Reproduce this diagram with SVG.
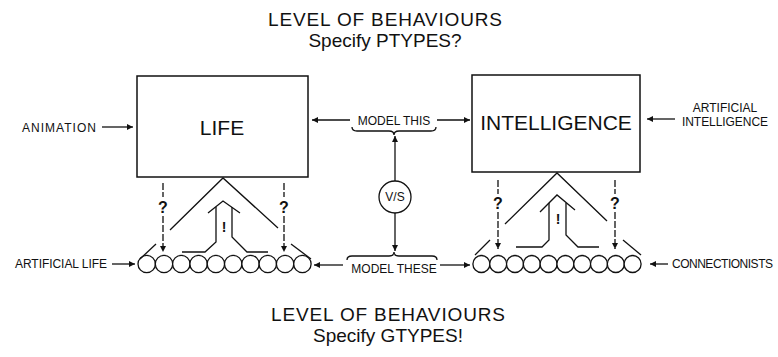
<svg xmlns="http://www.w3.org/2000/svg" width="778" height="357" viewBox="0 0 778 357">
<defs>
<style>
text{font-family:"Liberation Sans",Arial,sans-serif;fill:#111}
.title{font-size:19px;text-anchor:middle}
.lbl{font-size:12px}
.big{font-size:21px;text-anchor:middle}
.ln{fill:none;stroke:#111;stroke-width:1.3}
.box{fill:#fff;stroke:#111;stroke-width:1.5}
.dash{fill:none;stroke:#111;stroke-width:1.3;stroke-dasharray:7 2}
.q{font-size:16px;text-anchor:middle;font-weight:bold}
.ex{font-size:14px;text-anchor:middle;font-weight:bold}
.cir{fill:#fff;stroke:#111;stroke-width:1.3}
</style>
<marker id="ah" viewBox="0 0 10 10" refX="10" refY="5" markerWidth="7" markerHeight="6" orient="auto-start-reverse" markerUnits="userSpaceOnUse"><path d="M0,0 L10,5 L0,10 z" fill="#111"/></marker>
</defs>
<rect width="778" height="357" fill="#fff"/>

<g id="title-top">
<text class="title" x="385" y="26" textLength="234">LEVEL OF BEHAVIOURS</text>
<text class="title" x="385" y="47">Specify PTYPES?</text>
</g>
<g id="title-bottom">
<text class="title" x="388" y="321" textLength="234">LEVEL OF BEHAVIOURS</text>
<text class="title" x="388" y="342">Specify GTYPES!</text>
</g>

<g id="life">
<rect class="box" x="137" y="76" width="171" height="101"/>
<text class="big" x="222" y="135">LIFE</text>
</g>
<g id="intelligence">
<rect class="box" x="472" y="75" width="168" height="97"/>
<text class="big" x="556" y="130">INTELLIGENCE</text>
</g>

<g id="animation"><text class="lbl" x="22" y="132" textLength="74">ANIMATION</text></g>
<g id="ai-label">
<text class="lbl" x="725" y="112" text-anchor="middle">ARTIFICIAL</text>
<text class="lbl" x="682" y="126" textLength="86">INTELLIGENCE</text>
</g>
<g id="alife-label"><text class="lbl" x="15" y="268" textLength="92">ARTIFICIAL LIFE</text></g>
<g id="conn-label"><text class="lbl" x="672" y="268" textLength="101">CONNECTIONISTS</text></g>

<g id="model-this">
<text class="lbl" x="394" y="125" text-anchor="middle">MODEL THIS</text>
<path class="ln" d="M352,127 Q352,131 357,131 L389,131 Q394,131 394,135 Q394,131 399,131 L431,131 Q436,131 436,127"/>
</g>
<g id="model-these">
<text class="lbl" x="394" y="273" text-anchor="middle">MODEL THESE</text>
<path class="ln" d="M347,260 Q347,256 352,256 L389,256 Q394,256 394,252 Q394,256 399,256 L432,256 Q437,256 437,260"/>
</g>
<g id="vs">
<circle class="cir" cx="395" cy="197" r="16"/>
<text class="lbl" x="395" y="201" text-anchor="middle">V/S</text>
</g>

<g id="life-genes">
<circle class="cir" cx="146.7" cy="264" r="8.7"/><circle class="cir" cx="164" cy="264" r="8.7"/><circle class="cir" cx="181.3" cy="264" r="8.7"/><circle class="cir" cx="198.6" cy="264" r="8.7"/><circle class="cir" cx="215.9" cy="264" r="8.7"/><circle class="cir" cx="233.2" cy="264" r="8.7"/><circle class="cir" cx="250.5" cy="264" r="8.7"/><circle class="cir" cx="267.8" cy="264" r="8.7"/><circle class="cir" cx="285.1" cy="264" r="8.7"/><circle class="cir" cx="302.4" cy="264" r="8.7"/>
</g>
<g id="conn-genes">
<circle class="cir" cx="481.4" cy="264" r="8.5"/><circle class="cir" cx="498.2" cy="264" r="8.5"/><circle class="cir" cx="515" cy="264" r="8.5"/><circle class="cir" cx="531.8" cy="264" r="8.5"/><circle class="cir" cx="548.6" cy="264" r="8.5"/><circle class="cir" cx="565.4" cy="264" r="8.5"/><circle class="cir" cx="582.2" cy="264" r="8.5"/><circle class="cir" cx="599" cy="264" r="8.5"/><circle class="cir" cx="615.8" cy="264" r="8.5"/><circle class="cir" cx="632.6" cy="264" r="8.5"/>
</g>

<g id="connectors">
<line class="ln" x1="102" y1="127" x2="133" y2="127" marker-end="url(#ah)"/>
<line class="ln" x1="675" y1="119" x2="647" y2="119" marker-end="url(#ah)"/>
<line class="ln" x1="112" y1="264" x2="135" y2="264" marker-end="url(#ah)"/>
<line class="ln" x1="668" y1="264" x2="650" y2="264" marker-end="url(#ah)"/>
<line class="ln" x1="350" y1="120" x2="312" y2="120" marker-end="url(#ah)"/>
<line class="ln" x1="437" y1="120" x2="470" y2="120" marker-end="url(#ah)"/>
<line class="ln" x1="343" y1="265" x2="314" y2="265" marker-end="url(#ah)"/>
<line class="ln" x1="440" y1="265" x2="470" y2="265" marker-end="url(#ah)"/>
<line class="ln" x1="395" y1="181" x2="395" y2="136" marker-end="url(#ah)"/>
<line class="ln" x1="395" y1="213" x2="395" y2="251" marker-end="url(#ah)"/>

<polyline class="ln" points="170,230 223,178 278,228"/>
<line class="ln" x1="140" y1="259" x2="156" y2="244"/>
<line class="ln" x1="291" y1="244" x2="311" y2="259"/>
<line class="dash" x1="163" y1="183" x2="163" y2="197"/>
<line class="dash" x1="163" y1="216" x2="163" y2="252" marker-end="url(#ah)"/>
<line class="dash" x1="284" y1="183" x2="284" y2="197"/>
<line class="dash" x1="284" y1="216" x2="284" y2="252" marker-end="url(#ah)"/>
<polyline class="ln" points="208,213 223,201 240,213"/>
<polyline class="ln" points="216,207 216,242 205,252 182,252"/>
<polyline class="ln" points="232,207 232,237 247,252 268,252"/>

<polyline class="ln" points="505,224 557,173 607,221"/>
<line class="ln" x1="475" y1="255" x2="490" y2="240"/>
<line class="ln" x1="623" y1="240" x2="641" y2="255"/>
<line class="dash" x1="498" y1="180" x2="498" y2="194"/>
<line class="dash" x1="498" y1="212" x2="498" y2="249" marker-end="url(#ah)"/>
<line class="dash" x1="615" y1="180" x2="615" y2="194"/>
<line class="dash" x1="615" y1="212" x2="615" y2="249" marker-end="url(#ah)"/>
<polyline class="ln" points="540,212 557,195 575,210"/>
<polyline class="ln" points="549,203 549,240 542,247 516,247"/>
<polyline class="ln" points="566,203 566,235 578,247 599,247"/>
</g>

<g id="marks">
<text class="q" x="163" y="213">?</text>
<text class="q" x="284" y="213">?</text>
<text class="q" x="498" y="209">?</text>
<text class="q" x="615" y="209">?</text>
<text class="ex" x="224" y="232">!</text>
<text class="ex" x="558" y="224">!</text>
</g>
</svg>
